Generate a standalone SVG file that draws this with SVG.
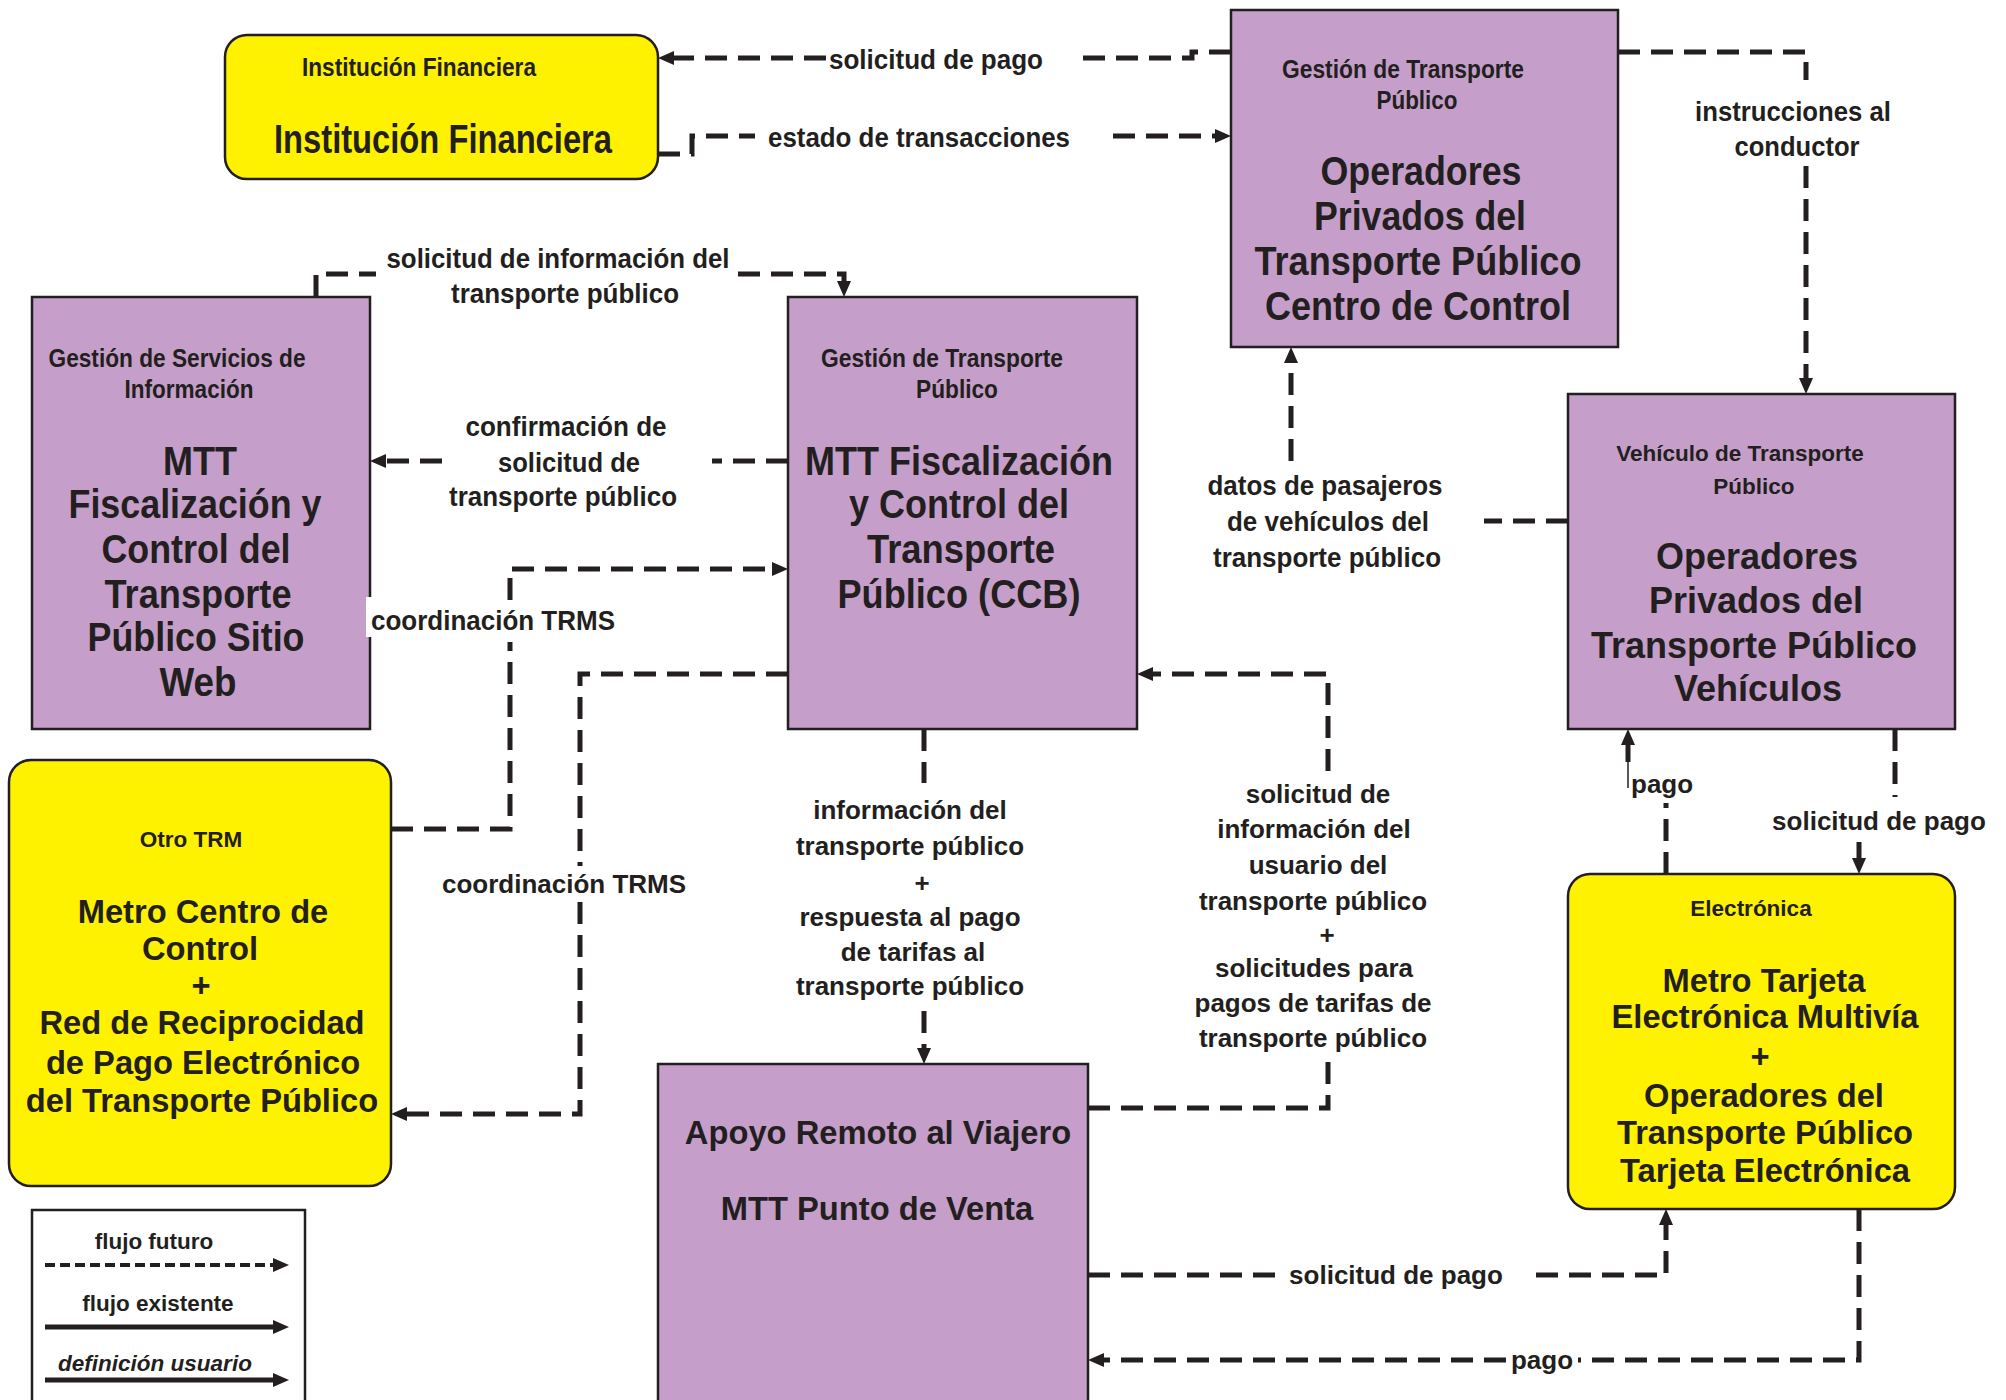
<svg xmlns="http://www.w3.org/2000/svg" width="2006" height="1400" viewBox="0 0 2006 1400">
<style>
.box{fill:#c59fc9;stroke:#231f20;stroke-width:2.5}
.ybox{fill:#fff200;stroke:#231f20;stroke-width:2.5}
.c{fill:none;stroke:#231f20;stroke-width:5;stroke-dasharray:22 11}
.solid{fill:none;stroke:#231f20;stroke-width:5}
text{font-family:"Liberation Sans",Arial,Helvetica,sans-serif;font-weight:bold;fill:#231f20;text-anchor:middle}
.t26{font-size:26px}
.t40{font-size:40px}
.t28{font-size:28px}
.t25{font-size:26px}
.t32{font-size:32.7px}
.t36{font-size:36px}
.t22{font-size:22.5px}
.t21{font-size:22.5px}
.st{text-anchor:start}
</style>
<defs>
<marker id="ah" viewBox="0 0 16 14" refX="4" refY="7" markerWidth="16" markerHeight="14" markerUnits="userSpaceOnUse" orient="auto">
<path d="M0,0 L16,7 L0,14 z" fill="#231f20"/>
</marker>
</defs>
<rect width="2006" height="1400" fill="#ffffff"/>

<g id="institucion-financiera">
<rect class="ybox" x="225" y="35" width="433" height="144" rx="22"/>
<text class="t26" x="419" y="76" textLength="234" lengthAdjust="spacingAndGlyphs">Institución Financiera</text>
<text class="t40" x="443" y="153" textLength="338" lengthAdjust="spacingAndGlyphs">Institución Financiera</text>
</g>

<g id="operadores-centro-control">
<rect class="box" x="1231" y="10" width="387" height="337"/>
<text class="t26" x="1403" y="78" textLength="242" lengthAdjust="spacingAndGlyphs">Gestión de Transporte</text>
<text class="t26" x="1417" y="109" textLength="81" lengthAdjust="spacingAndGlyphs">Público</text>
<text class="t40" x="1421" y="185" textLength="201" lengthAdjust="spacingAndGlyphs">Operadores</text>
<text class="t40" x="1420" y="230" textLength="212" lengthAdjust="spacingAndGlyphs">Privados del</text>
<text class="t40" x="1418" y="275" textLength="327" lengthAdjust="spacingAndGlyphs">Transporte Público</text>
<text class="t40" x="1418" y="320" textLength="306" lengthAdjust="spacingAndGlyphs">Centro de Control</text>
</g>

<g id="sitio-web">
<rect class="box" x="32" y="297" width="338" height="432"/>
<text class="t26" x="177" y="367" textLength="257" lengthAdjust="spacingAndGlyphs">Gestión de Servicios de</text>
<text class="t26" x="189" y="398" textLength="129" lengthAdjust="spacingAndGlyphs">Información</text>
<text class="t40" x="200" y="475" textLength="74" lengthAdjust="spacingAndGlyphs">MTT</text>
<text class="t40" x="195" y="518" textLength="253" lengthAdjust="spacingAndGlyphs">Fiscalización y</text>
<text class="t40" x="196" y="563" textLength="189" lengthAdjust="spacingAndGlyphs">Control del</text>
<text class="t40" x="198" y="608" textLength="187" lengthAdjust="spacingAndGlyphs">Transporte</text>
<text class="t40" x="196" y="651" textLength="217" lengthAdjust="spacingAndGlyphs">Público Sitio</text>
<text class="t40" x="198" y="696" textLength="77" lengthAdjust="spacingAndGlyphs">Web</text>
</g>

<g id="ccb">
<rect class="box" x="788" y="297" width="349" height="432"/>
<text class="t26" x="942" y="367" textLength="242" lengthAdjust="spacingAndGlyphs">Gestión de Transporte</text>
<text class="t26" x="957" y="398" textLength="82" lengthAdjust="spacingAndGlyphs">Público</text>
<text class="t40" x="959" y="475" textLength="308" lengthAdjust="spacingAndGlyphs">MTT Fiscalización</text>
<text class="t40" x="959" y="518" textLength="220" lengthAdjust="spacingAndGlyphs">y Control del</text>
<text class="t40" x="961" y="563" textLength="188" lengthAdjust="spacingAndGlyphs">Transporte</text>
<text class="t40" x="959" y="608" textLength="243" lengthAdjust="spacingAndGlyphs">Público (CCB)</text>
</g>

<g id="vehiculos">
<rect class="box" x="1568" y="394" width="387" height="335"/>
<text class="t22" x="1740" y="461">Vehículo de Transporte</text>
<text class="t22" x="1754" y="494">Público</text>
<text class="t36" x="1757" y="569">Operadores</text>
<text class="t36" x="1756" y="613">Privados del</text>
<text class="t36" x="1754" y="658">Transporte Público</text>
<text class="t36" x="1758" y="701">Vehículos</text>
</g>

<g id="otro-trm">
<rect class="ybox" x="9" y="760" width="382" height="426" rx="22"/>
<text class="t22" x="191" y="847">Otro TRM</text>
<text class="t32" x="203" y="923">Metro Centro de</text>
<text class="t32" x="200" y="960">Control</text>
<text class="t32" x="201" y="997">+</text>
<text class="t32" x="202" y="1034">Red de Reciprocidad</text>
<text class="t32" x="203" y="1074">de Pago Electrónico</text>
<text class="t32" x="202" y="1112">del Transporte Público</text>
</g>

<g id="apoyo-remoto">
<rect class="box" x="658" y="1064" width="430" height="345"/>
<text class="t32" x="878" y="1144">Apoyo Remoto al Viajero</text>
<text class="t32" x="877" y="1220">MTT Punto de Venta</text>
</g>

<g id="tarjeta-electronica">
<rect class="ybox" x="1568" y="874" width="387" height="335" rx="22"/>
<text class="t22" x="1751" y="916">Electrónica</text>
<text class="t32" x="1764" y="992">Metro Tarjeta</text>
<text class="t32" x="1765" y="1028">Electrónica Multivía</text>
<text class="t32" x="1760" y="1068">+</text>
<text class="t32" x="1764" y="1107">Operadores del</text>
<text class="t32" x="1765" y="1144">Transporte Público</text>
<text class="t32" x="1765" y="1182">Tarjeta Electrónica</text>
</g>

<g id="connectors">
<path class="c" d="M1231,52 H1192 V58 H1075 M826,58 H670" marker-end="url(#ah)"/>
<path class="c" d="M658,154 H692 V136 H755 M1113,136 H1219" marker-end="url(#ah)"/>
<path class="c" d="M1618,52 H1806 V80 M1806,166 V382" marker-end="url(#ah)"/>
<path class="c" d="M316,297 V274 H376 M738,274 H844 V285" marker-end="url(#ah)"/>
<path class="c" d="M788,461 H712 M442,461 H382" marker-end="url(#ah)"/>
<path class="c" d="M391,829 H510 V642 M510,600 V569 H776" marker-end="url(#ah)"/>
<path class="c" d="M788,674 H580 V866 M580,902 V1114 H403" marker-end="url(#ah)"/>
<path class="c" d="M924,729 V783 M924,1011 V1052" marker-end="url(#ah)"/>
<path class="c" d="M1088,1108 H1328 V1062 M1328,771 V674 H1149" marker-end="url(#ah)"/>
<path class="c" d="M1568,521 H1484 M1291,461 V359" marker-end="url(#ah)"/>
<path class="c" d="M1666,874 V803 M1628,762 V741" marker-end="url(#ah)"/>
<path d="M1628,762 V788" stroke="#231f20" stroke-width="1.5" fill="none"/>
<path class="c" d="M1895,729 V797 M1859,842 V862" marker-end="url(#ah)"/>
<path class="c" d="M1088,1275 H1282 M1536,1275 H1666 V1221" marker-end="url(#ah)"/>
<path class="c" d="M1859,1209 V1360 H1578 M1506,1360 H1100" marker-end="url(#ah)"/>
</g>

<g id="connector-labels">
<text class="t28" x="936" y="69" textLength="214" lengthAdjust="spacingAndGlyphs">solicitud de pago</text>
<text class="t28" x="919" y="147" textLength="302" lengthAdjust="spacingAndGlyphs">estado de transacciones</text>
<text class="t28" x="1793" y="121" textLength="196" lengthAdjust="spacingAndGlyphs">instrucciones al</text>
<text class="t28" x="1797" y="156" textLength="125" lengthAdjust="spacingAndGlyphs">conductor</text>
<text class="t28" x="558" y="268" textLength="343" lengthAdjust="spacingAndGlyphs">solicitud de información del</text>
<text class="t28" x="565" y="303" textLength="228" lengthAdjust="spacingAndGlyphs">transporte público</text>
<text class="t28" x="566" y="436" textLength="201" lengthAdjust="spacingAndGlyphs">confirmación de</text>
<text class="t28" x="569" y="472" textLength="142" lengthAdjust="spacingAndGlyphs">solicitud de</text>
<text class="t28" x="563" y="506" textLength="228" lengthAdjust="spacingAndGlyphs">transporte público</text>
<rect x="366" y="597" width="8" height="40" fill="#ffffff"/>
<text class="t28" x="493" y="630" textLength="244" lengthAdjust="spacingAndGlyphs">coordinación TRMS</text>
<text class="t28" x="1325" y="495" textLength="235" lengthAdjust="spacingAndGlyphs">datos de pasajeros</text>
<text class="t28" x="1328" y="531" textLength="202" lengthAdjust="spacingAndGlyphs">de vehículos del</text>
<text class="t28" x="1327" y="567" textLength="228" lengthAdjust="spacingAndGlyphs">transporte público</text>
<text class="t25" x="564" y="893">coordinación TRMS</text>
<text class="t25" x="910" y="819">información del</text>
<text class="t25" x="910" y="855">transporte público</text>
<text class="t25" x="922" y="892">+</text>
<text class="t25" x="910" y="926">respuesta al pago</text>
<text class="t25" x="913" y="961">de tarifas al</text>
<text class="t25" x="910" y="995">transporte público</text>
<text class="t25" x="1318" y="803">solicitud de</text>
<text class="t25" x="1314" y="838">información del</text>
<text class="t25" x="1318" y="874">usuario del</text>
<text class="t25" x="1313" y="910">transporte público</text>
<text class="t25" x="1327" y="944">+</text>
<text class="t25" x="1314" y="977">solicitudes para</text>
<text class="t25" x="1313" y="1012">pagos de tarifas de</text>
<text class="t25" x="1313" y="1047">transporte público</text>
<text class="t25 st" x="1631" y="793">pago</text>
<text class="t25" x="1879" y="830">solicitud de pago</text>
<text class="t25" x="1396" y="1284">solicitud de pago</text>
<text class="t25" x="1542" y="1369">pago</text>
</g>

<g id="legend">
<rect x="32" y="1210" width="273" height="200" fill="#ffffff" stroke="#231f20" stroke-width="2.5"/>
<text class="t21" x="154" y="1249">flujo futuro</text>
<path d="M45,1265 H277" fill="none" stroke="#231f20" stroke-width="4" stroke-dasharray="10 5" marker-end="url(#ah)"/>
<text class="t21" x="158" y="1311">flujo existente</text>
<path d="M45,1327 H277" class="solid" stroke-width="4" marker-end="url(#ah)"/>
<text class="t21" x="155" y="1371" font-style="italic">definición usuario</text>
<path d="M45,1380 H277" class="solid" stroke-width="4" marker-end="url(#ah)"/>
</g>
</svg>
